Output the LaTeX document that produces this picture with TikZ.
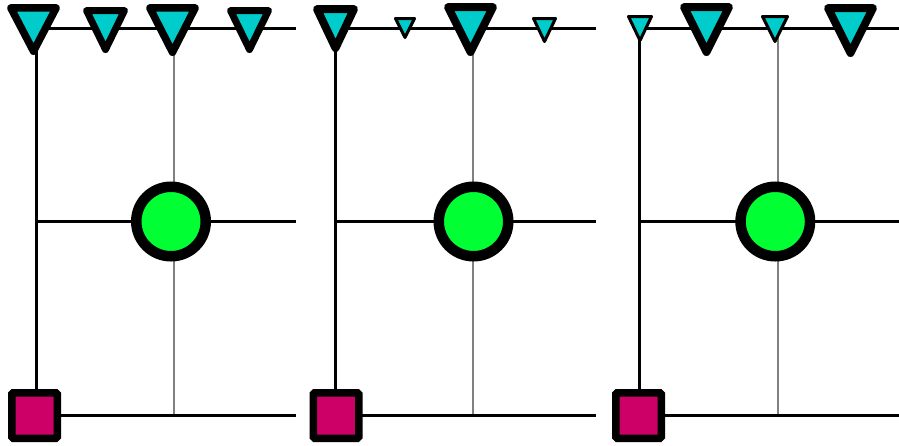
\documentclass[tikz,border=0pt]{standalone}
\definecolor{tcyan}{RGB}{0,204,204}
\definecolor{tgreen}{RGB}{0,255,51}
\definecolor{tmag}{RGB}{204,0,102}
\definecolor{tgray}{RGB}{128,128,128}
\newcommand{\invtri}[6]{%
  \draw[tri, line width=#5pt] ({#1+#5/2},{#3+#5/2}) -- ({#2-#5/2},{#3+#5/2}) -- ({(#1+#2)/2},{#4-#5/2}) -- cycle;
  \coordinate (#6) at ({(#1+#2)/2},28);}
\begin{document}
\begin{tikzpicture}[x=1pt,y=-1pt,
  wire/.style={black,line width=3pt},
  gwire/.style={tgray,line width=2pt},
  tri/.style={draw=black,fill=tcyan,line join=round},
  dot/.style={circle,draw=black,fill=tgreen,line width=10.5pt,minimum size=69.5pt,inner sep=0pt},
  sq/.style={rectangle,draw=black,fill=tmag,line width=7.5pt,minimum size=45.5pt,inner sep=0pt,rounded corners=1.5pt}]
\fill[white] (0,0) rectangle (899,445);
\useasboundingbox (0,0) rectangle (899,445);
% ---------- coordinates per panel ----------
% panel 1
\coordinate (v1) at (36,28);
\coordinate (g1) at (174,28);
\coordinate (e1t) at (296,28);
\coordinate (e1m) at (296,221.5);
\coordinate (e1b) at (296,415.5);
% panel 2
\coordinate (v2) at (335,28);
\coordinate (g2) at (473.3,28);
\coordinate (e2t) at (596,28);
\coordinate (e2m) at (596,221.5);
\coordinate (e2b) at (596,415.5);
% panel 3
\coordinate (v3) at (639,28);
\coordinate (g3) at (778.3,28);
\coordinate (e3t) at (899,28);
\coordinate (e3m) at (899,221.5);
\coordinate (e3b) at (899,415.5);
% node positions
\path (171,221.5) coordinate (c1pos) (473.5,221.5) coordinate (c2pos) (775.3,221.5) coordinate (c3pos);
\path (34.5,415.5) coordinate (s1pos) (336,415.5) coordinate (s2pos) (638.5,415.5) coordinate (s3pos);
% ---------- wires ----------
\foreach \i in {1,2,3}{
  \draw[gwire] (g\i) -- (g\i |- e\i b);
  \draw[wire] (v\i) -- (e\i t);
  \draw[wire] (v\i) -- (v\i |- s\i pos);
  \draw[wire] (v\i |- e\i m) -- (e\i m);
  \draw[wire] (s\i pos) -- (e\i b);
}
% ---------- nodes ----------
\node[dot] (c1) at (c1pos) {};
\node[dot] (c2) at (c2pos) {};
\node[dot] (c3) at (c3pos) {};
\node[sq] (s1) at (s1pos) {};
\node[sq] (s2) at (s2pos) {};
\node[sq] (s3) at (s3pos) {};
% ---------- triangles ----------
\invtri{7}{60}{4}{55}{7.5}{t11}
\invtri{83}{128}{7}{53}{7}{t12}
\invtri{146}{199}{4}{56}{7.5}{t13}
\invtri{227}{272}{7}{53}{7}{t14}
\invtri{313}{358}{5}{52}{8}{t21}
\invtri{394}{416}{17}{39}{3}{t22}
\invtri{444}{497}{3}{56}{8}{t23}
\invtri{532}{557}{17}{43}{3}{t24}
\invtri{627}{653}{15}{42}{3}{t31}
\invtri{680}{733}{3}{56}{8}{t32}
\invtri{761}{789}{15}{43}{3}{t33}
\invtri{824}{877}{4}{57}{8}{t34}
\end{tikzpicture}
\end{document}
